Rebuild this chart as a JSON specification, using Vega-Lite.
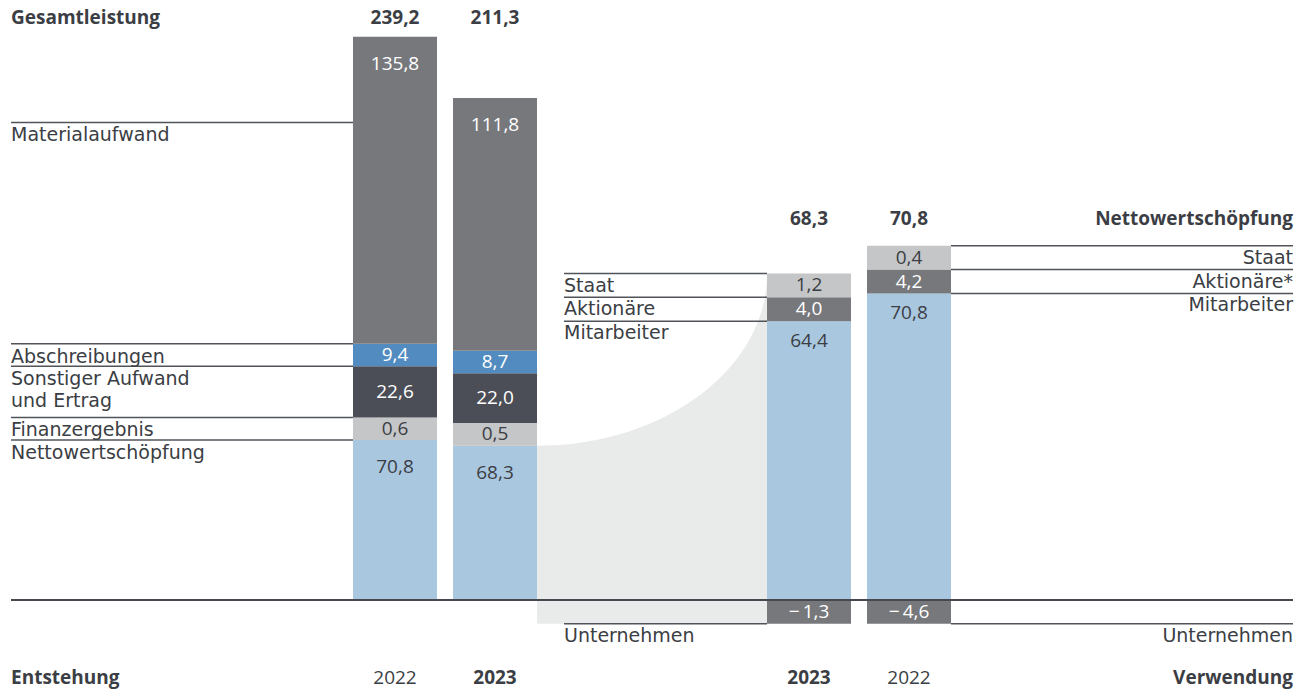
{
  "$schema": "https://vega.github.io/schema/vega-lite/v6.json",
  "background": "white",
  "padding": {"left": 10, "right": 14, "top": 0, "bottom": 0},
  "spacing": 0,
  "bounds": "flush",
  "config": {
    "view": {"stroke": null},
    "font": "Open Sans",
    "locale": {"number": {"decimal": ",", "thousands": ".", "grouping": [3], "currency": ["", " €"], "minus": "−\u2009"}},
    "text": {"fontSize": 19, "color": "#3b3e44"}
  },
  "data": {
    "values": [
      {"side": "Entstehung", "year": "2022", "order": 1, "cat": "Nettowertschöpfung", "label": "Nettowertschöpfung", "value": 70.8},
      {"side": "Entstehung", "year": "2022", "order": 2, "cat": "Finanzergebnis", "label": "Finanzergebnis", "value": 0.6},
      {"side": "Entstehung", "year": "2022", "order": 3, "cat": "Sonstiger Aufwand und Ertrag", "label": "Sonstiger Aufwand\nund Ertrag", "value": 22.6},
      {"side": "Entstehung", "year": "2022", "order": 4, "cat": "Abschreibungen", "label": "Abschreibungen", "value": 9.4},
      {"side": "Entstehung", "year": "2022", "order": 5, "cat": "Materialaufwand", "label": "Materialaufwand", "value": 135.8},
      {"side": "Entstehung", "year": "2023", "order": 1, "cat": "Nettowertschöpfung", "label": "Nettowertschöpfung", "value": 68.3},
      {"side": "Entstehung", "year": "2023", "order": 2, "cat": "Finanzergebnis", "label": "Finanzergebnis", "value": 0.5},
      {"side": "Entstehung", "year": "2023", "order": 3, "cat": "Sonstiger Aufwand und Ertrag", "label": "Sonstiger Aufwand\nund Ertrag", "value": 22.0},
      {"side": "Entstehung", "year": "2023", "order": 4, "cat": "Abschreibungen", "label": "Abschreibungen", "value": 8.7},
      {"side": "Entstehung", "year": "2023", "order": 5, "cat": "Materialaufwand", "label": "Materialaufwand", "value": 111.8},
      {"side": "Verwendung", "year": "2023", "order": 1, "cat": "Mitarbeiter", "label": "Mitarbeiter", "value": 64.4},
      {"side": "Verwendung", "year": "2023", "order": 2, "cat": "Aktionäre", "label": "Aktionäre", "value": 4.0},
      {"side": "Verwendung", "year": "2023", "order": 3, "cat": "Staat", "label": "Staat", "value": 1.2},
      {"side": "Verwendung", "year": "2023", "order": 4, "cat": "Unternehmen", "label": "Unternehmen", "value": -1.3},
      {"side": "Verwendung", "year": "2022", "order": 1, "cat": "Mitarbeiter", "label": "Mitarbeiter", "value": 70.8},
      {"side": "Verwendung", "year": "2022", "order": 2, "cat": "Aktionäre", "label": "Aktionäre*", "value": 4.2},
      {"side": "Verwendung", "year": "2022", "order": 3, "cat": "Staat", "label": "Staat", "value": 0.4},
      {"side": "Verwendung", "year": "2022", "order": 4, "cat": "Unternehmen", "label": "Unternehmen", "value": -4.6}
    ]
  },
  "transform": [
    {"calculate": "datum.value >= 0 ? max(datum.value, datum.side === 'Entstehung' ? 10 : 5.5) : min(datum.value, -5.5)", "as": "h"},
    {"stack": "h", "groupby": ["side", "year"], "sort": [{"field": "order", "order": "ascending"}], "as": ["y0", "y1"]},
    {"calculate": "datum.y1 >= datum.y0 ? datum.y1 - min((datum.y1 - datum.y0) / 2, datum.side === 'Entstehung' ? 12 : 4.6) : (datum.y0 + datum.y1) / 2", "as": "labelY"},
    {"calculate": "datum.side === 'Entstehung' ? min(datum.y1, 211.3) : datum.y1", "as": "lineY"}
  ],
  "hconcat": [
    {
      "width": 342, "height": 690,
      "transform": [{"filter": "datum.side === 'Entstehung' && datum.year === '2022'"}],
      "layer": [
        {"mark": {"type": "rule", "color": "#50545a", "strokeWidth": 1.5},
         "encoding": {"y": {"field": "lineY", "type": "quantitative", "scale": {"domain": [-39.823, 265.487], "nice": false, "zero": false}, "axis": null}}},
        {"mark": {"type": "text", "align": "left", "baseline": "top", "dy": 4, "lineBreak": "\n", "lineHeight": 22, "font": "DejaVu Sans", "fontSize": 19},
         "encoding": {"x": {"value": 0}, "y": {"field": "lineY", "type": "quantitative", "scale": {"domain": [-39.823, 265.487], "nice": false, "zero": false}, "axis": null}, "text": {"field": "label"}}},
        {"data": {"values": [{}]}, "mark": {"type": "rule", "color": "#45484e", "strokeWidth": 2},
         "encoding": {"y": {"datum": 0, "type": "quantitative", "scale": {"domain": [-39.823, 265.487], "nice": false, "zero": false}, "axis": null}}},
        {"data": {"values": [{"t": "Gesamtleistung"}]}, "mark": {"type": "text", "align": "left", "baseline": "middle", "fontWeight": "bold"},
         "encoding": {"x": {"value": 0}, "y": {"value": 18}, "text": {"field": "t"}}},
        {"data": {"values": [{"t": "Entstehung"}]}, "mark": {"type": "text", "align": "left", "baseline": "middle", "fontWeight": "bold"},
         "encoding": {"x": {"value": 0}, "y": {"value": 678}, "text": {"field": "t"}}}
      ]
    },
    {
      "width": 184, "height": 690,
      "transform": [{"filter": "datum.side === 'Entstehung'"}],
      "layer": [
        {"mark": {"type": "bar"},
         "encoding": {
           "x": {"field": "year", "type": "nominal", "scale": {"domain": ["2022", "2023"], "paddingInner": 0.16, "paddingOuter": 0}, "axis": null},
           "y": {"field": "y1", "type": "quantitative", "scale": {"domain": [-39.823, 265.487], "nice": false, "zero": false}, "axis": null},
           "y2": {"field": "y0"},
           "color": {"field": "cat", "type": "nominal", "legend": null,
                     "scale": {"domain": ["Materialaufwand", "Abschreibungen", "Sonstiger Aufwand und Ertrag", "Finanzergebnis", "Nettowertschöpfung", "Staat", "Aktionäre", "Mitarbeiter", "Unternehmen"],
                               "range": ["#76787c", "#518bbf", "#4b4e56", "#c5c6c8", "#aac7e0", "#c5c6c8", "#76787c", "#aac7e0", "#76787c"]}}
         }},
        {"data": {"values": [{}]}, "mark": {"type": "rule", "color": "#45484e", "strokeWidth": 2},
         "encoding": {"y": {"datum": 0, "type": "quantitative", "scale": {"domain": [-39.823, 265.487], "nice": false, "zero": false}, "axis": null}}},
        {"mark": {"type": "text", "baseline": "middle"},
         "encoding": {
           "x": {"field": "year", "type": "nominal", "axis": null},
           "y": {"field": "labelY", "type": "quantitative", "scale": {"domain": [-39.823, 265.487], "nice": false, "zero": false}, "axis": null},
           "text": {"field": "value", "type": "quantitative", "format": ".1f"},
           "color": {"condition": {"test": "datum.cat !== 'Finanzergebnis' && datum.cat !== 'Nettowertschöpfung' && datum.cat !== 'Staat' && datum.cat !== 'Mitarbeiter'", "value": "white"}, "value": "#3b3e44"}
         }},
        {"transform": [{"aggregate": [{"op": "sum", "field": "value", "as": "total"}], "groupby": ["year"]}],
         "mark": {"type": "text", "baseline": "middle", "fontWeight": "bold"},
         "encoding": {
           "x": {"field": "year", "type": "nominal", "axis": null},
           "y": {"value": 18},
           "text": {"field": "total", "type": "quantitative", "format": ".1f"}
         }},
        {"transform": [{"aggregate": [{"op": "count", "as": "n"}], "groupby": ["year"]}, {"filter": "datum.year === '2023'"}],
         "mark": {"type": "text", "baseline": "middle", "fontWeight": "bold"},
         "encoding": {"x": {"field": "year", "type": "nominal", "axis": null}, "y": {"value": 678}, "text": {"field": "year"}}},
        {"transform": [{"aggregate": [{"op": "count", "as": "n"}], "groupby": ["year"]}, {"filter": "datum.year !== '2023'"}],
         "mark": {"type": "text", "baseline": "middle"},
         "encoding": {"x": {"field": "year", "type": "nominal", "axis": null}, "y": {"value": 678}, "text": {"field": "year"}}}
      ]
    },
    {
      "width": 27, "height": 690,
      "data": {"values": [{"flow": "Nettowertschöpfung 2023"}]},
      "layer": [
        {"mark": {"type": "point", "shape": "M -0.0675 -0.7718 A 1.15 0.8606 0 0 0 1.0825 -1.6324 L 1.0825 0.119 L -0.0675 0.119 Z", "size": 160000, "filled": true, "color": "#e9eaea", "opacity": 1, "strokeWidth": 0},
         "encoding": {"y": {"datum": 0, "type": "quantitative", "scale": {"domain": [-20.785, 138.568], "nice": false, "zero": false}, "axis": null}}},
        {"mark": {"type": "rule", "color": "#45484e", "strokeWidth": 2},
         "encoding": {"y": {"datum": 0, "type": "quantitative", "scale": {"domain": [-20.785, 138.568], "nice": false, "zero": false}, "axis": null}}}
      ]
    },
    {
      "width": 203, "height": 690,
      "transform": [{"filter": "datum.side === 'Verwendung' && datum.year === '2023'"}],
      "layer": [
        {"mark": {"type": "rule", "color": "#50545a", "strokeWidth": 1.5},
         "encoding": {"y": {"field": "lineY", "type": "quantitative", "scale": {"domain": [-20.785, 138.568], "nice": false, "zero": false}, "axis": null}}},
        {"mark": {"type": "text", "align": "left", "baseline": "top", "dy": 3, "font": "DejaVu Sans", "fontSize": 19},
         "encoding": {"x": {"value": 0}, "y": {"field": "lineY", "type": "quantitative", "scale": {"domain": [-20.785, 138.568], "nice": false, "zero": false}, "axis": null}, "text": {"field": "label"}}},
        {"data": {"values": [{}]}, "mark": {"type": "rule", "color": "#45484e", "strokeWidth": 2},
         "encoding": {"y": {"datum": 0, "type": "quantitative", "scale": {"domain": [-20.785, 138.568], "nice": false, "zero": false}, "axis": null}}}
      ]
    },
    {
      "width": 184, "height": 690,
      "transform": [{"filter": "datum.side === 'Verwendung'"}],
      "layer": [
        {"mark": {"type": "bar"},
         "encoding": {
           "x": {"field": "year", "type": "nominal", "scale": {"domain": ["2023", "2022"], "paddingInner": 0.16, "paddingOuter": 0}, "axis": null},
           "y": {"field": "y1", "type": "quantitative", "scale": {"domain": [-20.785, 138.568], "nice": false, "zero": false}, "axis": null},
           "y2": {"field": "y0"},
           "color": {"field": "cat", "type": "nominal", "legend": null,
                     "scale": {"domain": ["Materialaufwand", "Abschreibungen", "Sonstiger Aufwand und Ertrag", "Finanzergebnis", "Nettowertschöpfung", "Staat", "Aktionäre", "Mitarbeiter", "Unternehmen"],
                               "range": ["#76787c", "#518bbf", "#4b4e56", "#c5c6c8", "#aac7e0", "#c5c6c8", "#76787c", "#aac7e0", "#76787c"]}}
         }},
        {"data": {"values": [{}]}, "mark": {"type": "rule", "color": "#45484e", "strokeWidth": 2},
         "encoding": {"y": {"datum": 0, "type": "quantitative", "scale": {"domain": [-20.785, 138.568], "nice": false, "zero": false}, "axis": null}}},
        {"mark": {"type": "text", "baseline": "middle"},
         "encoding": {
           "x": {"field": "year", "type": "nominal", "axis": null},
           "y": {"field": "labelY", "type": "quantitative", "scale": {"domain": [-20.785, 138.568], "nice": false, "zero": false}, "axis": null},
           "text": {"field": "value", "type": "quantitative", "format": ".1f"},
           "color": {"condition": {"test": "datum.cat !== 'Finanzergebnis' && datum.cat !== 'Nettowertschöpfung' && datum.cat !== 'Staat' && datum.cat !== 'Mitarbeiter'", "value": "white"}, "value": "#3b3e44"}
         }},
        {"transform": [{"aggregate": [{"op": "sum", "field": "value", "as": "total"}], "groupby": ["year"]}],
         "mark": {"type": "text", "baseline": "middle", "fontWeight": "bold"},
         "encoding": {
           "x": {"field": "year", "type": "nominal", "axis": null},
           "y": {"value": 219},
           "text": {"field": "total", "type": "quantitative", "format": ".1f"}
         }},
        {"transform": [{"aggregate": [{"op": "count", "as": "n"}], "groupby": ["year"]}, {"filter": "datum.year === '2023'"}],
         "mark": {"type": "text", "baseline": "middle", "fontWeight": "bold"},
         "encoding": {"x": {"field": "year", "type": "nominal", "axis": null}, "y": {"value": 678}, "text": {"field": "year"}}},
        {"transform": [{"aggregate": [{"op": "count", "as": "n"}], "groupby": ["year"]}, {"filter": "datum.year !== '2023'"}],
         "mark": {"type": "text", "baseline": "middle"},
         "encoding": {"x": {"field": "year", "type": "nominal", "axis": null}, "y": {"value": 678}, "text": {"field": "year"}}}
      ]
    },
    {
      "width": 342, "height": 690,
      "transform": [{"filter": "datum.side === 'Verwendung' && datum.year === '2022'"}],
      "layer": [
        {"mark": {"type": "rule", "color": "#50545a", "strokeWidth": 1.5},
         "encoding": {"y": {"field": "lineY", "type": "quantitative", "scale": {"domain": [-20.785, 138.568], "nice": false, "zero": false}, "axis": null}}},
        {"mark": {"type": "text", "align": "right", "baseline": "top", "dy": 3, "font": "DejaVu Sans", "fontSize": 19},
         "encoding": {"x": {"value": "width"}, "y": {"field": "lineY", "type": "quantitative", "scale": {"domain": [-20.785, 138.568], "nice": false, "zero": false}, "axis": null}, "text": {"field": "label"}}},
        {"data": {"values": [{}]}, "mark": {"type": "rule", "color": "#45484e", "strokeWidth": 2},
         "encoding": {"y": {"datum": 0, "type": "quantitative", "scale": {"domain": [-20.785, 138.568], "nice": false, "zero": false}, "axis": null}}},
        {"data": {"values": [{"t": "Nettowertschöpfung"}]}, "mark": {"type": "text", "align": "right", "baseline": "middle", "fontWeight": "bold"},
         "encoding": {"x": {"value": "width"}, "y": {"value": 219}, "text": {"field": "t"}}},
        {"data": {"values": [{"t": "Verwendung"}]}, "mark": {"type": "text", "align": "right", "baseline": "middle", "fontWeight": "bold"},
         "encoding": {"x": {"value": "width"}, "y": {"value": 678}, "text": {"field": "t"}}}
      ]
    }
  ]
}
